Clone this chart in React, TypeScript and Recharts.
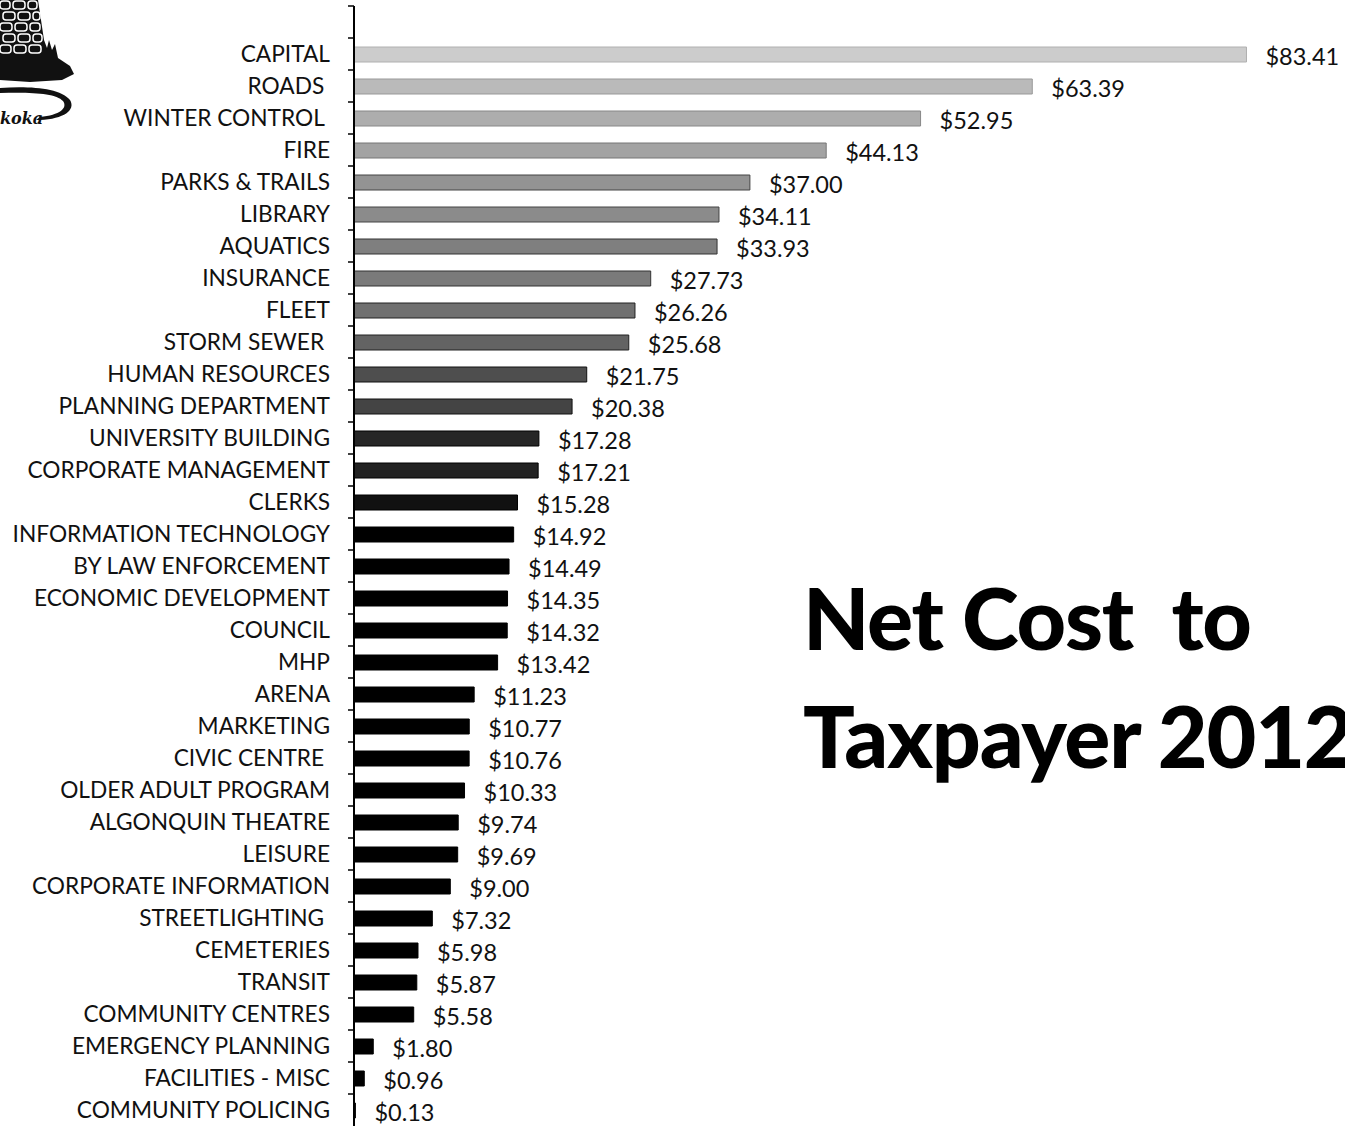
import React from 'react'
import { BarChart, Bar, XAxis, YAxis, Cell, LabelList } from 'recharts'

const categories = [
  'CAPITAL',
  'ROADS ',
  'WINTER CONTROL ',
  'FIRE',
  'PARKS & TRAILS',
  'LIBRARY',
  'AQUATICS',
  'INSURANCE',
  'FLEET',
  'STORM SEWER ',
  'HUMAN RESOURCES',
  'PLANNING DEPARTMENT',
  'UNIVERSITY BUILDING',
  'CORPORATE MANAGEMENT',
  'CLERKS',
  'INFORMATION TECHNOLOGY',
  'BY LAW ENFORCEMENT',
  'ECONOMIC DEVELOPMENT',
  'COUNCIL',
  'MHP',
  'ARENA',
  'MARKETING',
  'CIVIC CENTRE ',
  'OLDER ADULT PROGRAM',
  'ALGONQUIN THEATRE',
  'LEISURE',
  'CORPORATE INFORMATION',
  'STREETLIGHTING ',
  'CEMETERIES',
  'TRANSIT',
  'COMMUNITY CENTRES',
  'EMERGENCY PLANNING',
  'FACILITIES - MISC',
  'COMMUNITY POLICING',
]

const netCost = [
  83.41, 63.39, 52.95, 44.13, 37.0, 34.11, 33.93, 27.73, 26.26, 25.68, 21.75, 20.38, 17.28, 17.21,
  15.28, 14.92, 14.49, 14.35, 14.32, 13.42, 11.23, 10.77, 10.76, 10.33, 9.74, 9.69, 9.0, 7.32, 5.98,
  5.87, 5.58, 1.8, 0.96, 0.13,
]

// top bars are a light dotted grey, fading to solid black further down
const SHADES = [
  '#cccccc', '#bababa', '#adadad', '#a3a3a3', '#939393', '#8b8b8b', '#7f7f7f', '#7a7a7a',
  '#707070', '#636363', '#4e4e4e', '#444444', '#262626', '#222222', '#111111',
]
const EDGES = [
  '#b0b0b0', '#999999', '#888888', '#777777', '#444444', '#444444', '#333333', '#333333',
  '#222222', '#222222', '#111111', '#111111', '#000000', '#000000', '#000000',
]

// leading blank row leaves the empty band above CAPITAL
const rows = [
  { name: '', cost: null as number | null },
  ...categories.map((name, i) => ({ name, cost: netCost[i] })),
]

const LABEL_FONT = 'Lato, "Open Sans", sans-serif'

function CategoryTick(props: any) {
  const { x, y, payload } = props
  return (
    <g>
      <line x1={x - 6} x2={x} y1={y - 16} y2={y - 16} stroke="#000" strokeWidth={1.5} />
      <text
        x={x - 24}
        y={y}
        dy="0.35em"
        textAnchor="end"
        fontSize={22.7}
        fontFamily={LABEL_FONT}
        fill="#111"
        xmlSpace="preserve"
      >
        {payload.value}
      </text>
    </g>
  )
}

function ValueLabel(props: any) {
  const { x, y, width, height, value } = props
  if (value == null) return null
  return (
    <text
      x={x + width + 19}
      y={y + height / 2}
      dy="0.45em"
      fontSize={23.5}
      fontFamily={LABEL_FONT}
      fill="#111"
    >
      {`$${Number(value).toFixed(2)}`}
    </text>
  )
}

// rough sketch of the cropped Muskoka logo in the corner
const STONES = [
  [0, 1, 10], [13, 1, 12], [28, 1, 9],
  [3, 12, 12], [18, 12, 12], [33, 12, 7],
  [0, 23, 12], [15, 23, 12], [30, 23, 10],
  [3, 34, 12], [18, 34, 12], [33, 34, 9],
  [0, 45, 11], [14, 45, 12], [29, 45, 12],
]

function Logo() {
  return (
    <svg width={90} height={135} style={{ position: 'absolute', left: 0, top: 0 }}>
      <path
        d="M0 0 L38 0 L41 20 L44 40 L47 48 L49 40 L52 50 L55 44 L58 58 L70 66 L74 74 L62 80 L30 82 L0 80 Z"
        fill="#111"
      />
      {STONES.map(([sx, sy, w], i) => (
        <rect key={i} x={sx} y={sy} width={w} height={8} rx={3} fill="#111" stroke="#fff" strokeWidth={1.5} />
      ))}
      <path
        d="M0 88 C30 86 60 88 70 100 C76 110 64 119 40 120 L36 120 L40 117 C60 115 68 108 63 101 C56 93 30 92 0 93 Z"
        fill="#111"
      />
      <text x={0} y={124} fontSize={16} fontStyle="italic" fontWeight={700} fontFamily="'DejaVu Serif', serif" fill="#111">
        koka
      </text>
    </svg>
  )
}

export default function App() {
  return (
    <div
      style={{
        position: 'absolute',
        left: 0,
        top: 0,
        width: 1345,
        height: 1126,
        overflow: 'hidden',
        background: '#fff',
      }}
    >
      <Logo />
      <BarChart
        layout="vertical"
        width={1345}
        height={1126}
        data={rows}
        margin={{ top: 6, right: 28, bottom: 0, left: 0 }}
        barSize={15}
      >
        <XAxis type="number" domain={[0, 90]} hide />
        <YAxis
          type="category"
          dataKey="name"
          width={354}
          interval={0}
          axisLine={{ stroke: '#000', strokeWidth: 2 }}
          tickLine={false}
          tickSize={0}
          tickMargin={0}
          tick={<CategoryTick />}
        />
        <Bar dataKey="cost" isAnimationActive={false}>
          {rows.map((_, i) => (
            <Cell
              key={`cell-${i}`}
              fill={SHADES[i - 1] ?? '#000'}
              stroke={EDGES[i - 1] ?? '#000'}
              strokeWidth={1}
            />
          ))}
          <LabelList dataKey="cost" content={<ValueLabel />} />
        </Bar>
      </BarChart>
      <div
        style={{
          position: 'absolute',
          left: 803,
          top: 558,
          fontFamily: LABEL_FONT,
          fontWeight: 900,
          fontSize: 86,
          lineHeight: '118px',
          letterSpacing: -1.2,
          color: '#000',
          whiteSpace: 'pre',
        }}
      >
        {'Net Cost  to\nTaxpayer 2012'}
      </div>
    </div>
  )
}
